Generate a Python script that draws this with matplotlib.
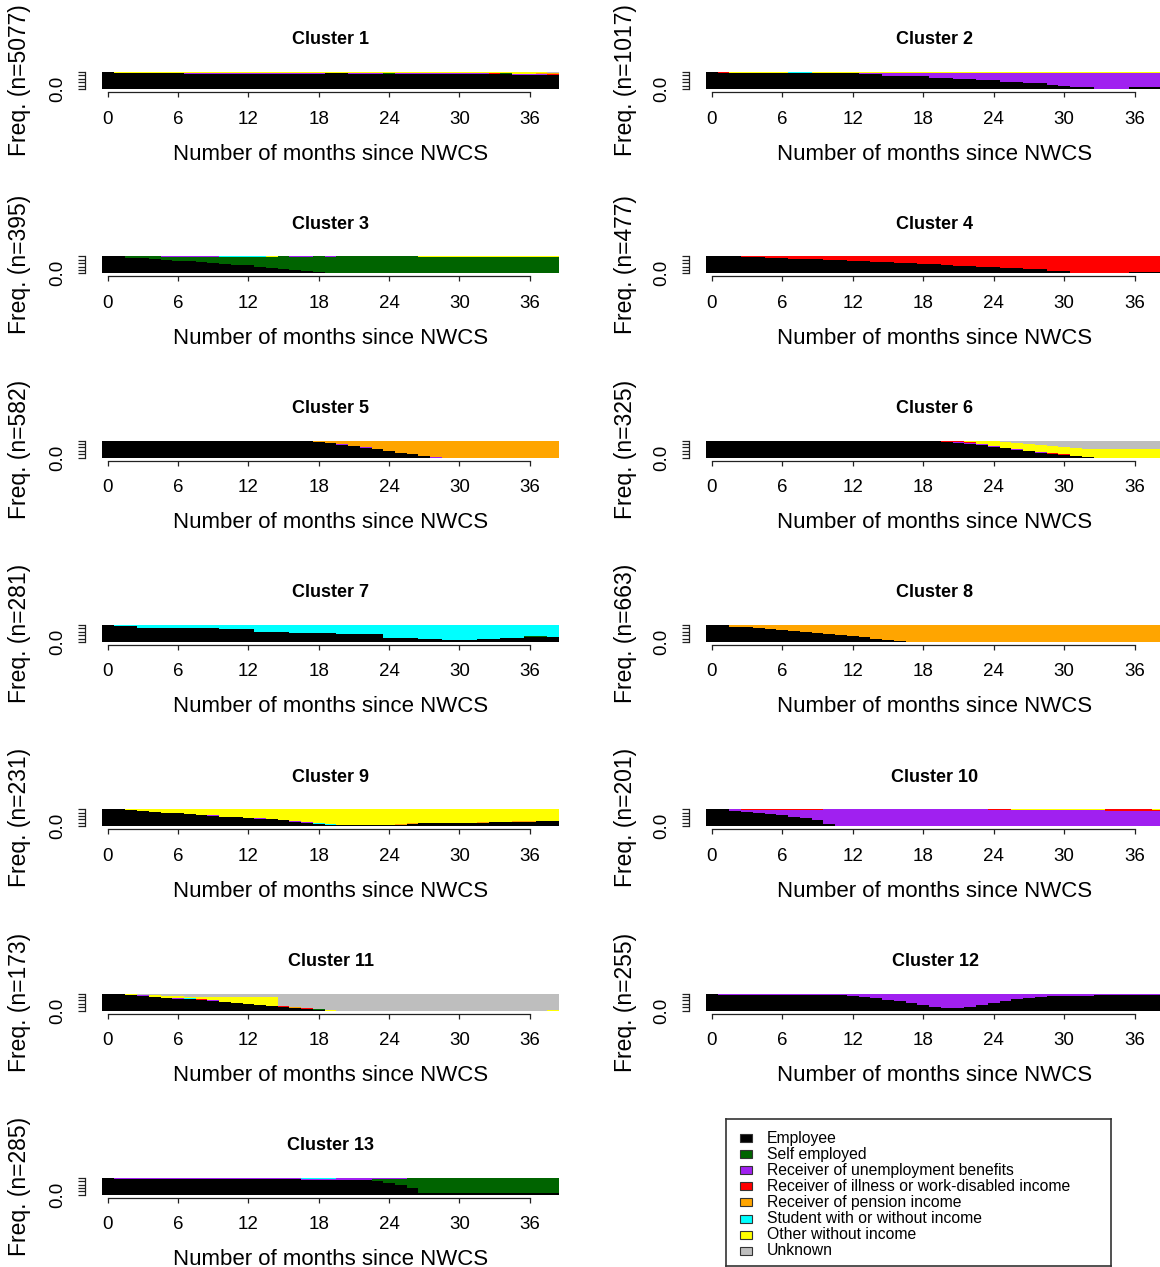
import numpy as np
import matplotlib.pyplot as plt

plt.rcParams['font.family'] = ['Liberation Sans', 'DejaVu Sans']

W, H = 1160, 1267
fig = plt.figure(figsize=(W / 100, H / 100), dpi=100)

months = np.arange(39)
xticks = [0, 6, 12, 18, 24, 30, 36]

state_keys = ["emp", "self", "unemp", "ill", "pens", "stud", "other", "unk"]
state_labels = [
    "Employee",
    "Self employed",
    "Receiver of unemployment benefits",
    "Receiver of illness or work-disabled income",
    "Receiver of pension income",
    "Student with or without income",
    "Other without income",
    "Unknown",
]
state_colors = ["#000000", "#006400", "#A020F0", "#FF0000",
                "#FFA500", "#00FFFF", "#FFFF00", "#BEBEBE"]

cluster_sizes = [5077, 1017, 395, 477, 582, 325, 281, 663, 231, 201, 173, 255, 285]

# state shares per month (percent), months 0..38
c01_emp = [100, 94, 94, 94, 94, 94, 94, 90, 90, 90, 90, 90, 90,
           90, 90, 90, 90, 90, 90, 94, 94, 90, 90, 90, 90, 90,
           90, 90, 90, 90, 90, 90, 90, 88, 88, 85, 85, 83, 80]
c01_self = [0, 0, 0, 0, 0, 0, 0, 0, 0, 0, 0, 0, 0,
            0, 0, 0, 0, 0, 0, 3, 3, 0, 0, 0, 5, 0,
            0, 0, 0, 0, 0, 0, 0, 0, 6, 0, 0, 0, 0]
c01_unemp = [0, 0, 0, 0, 0, 0, 0, 5, 5, 5, 5, 5, 5,
             5, 5, 5, 5, 5, 5, 0, 0, 5, 5, 5, 0, 5,
             5, 5, 5, 5, 5, 5, 5, 0, 0, 5, 5, 5, 4]
c01_ill = [0, 0, 0, 0, 0, 0, 0, 0, 0, 0, 0, 0, 0,
           0, 0, 0, 0, 0, 0, 0, 0, 0, 0, 0, 0, 0,
           0, 0, 0, 0, 0, 0, 0, 6, 0, 0, 0, 3, 4]
c01_pens = [0, 0, 0, 0, 0, 0, 0, 0, 0, 0, 0, 0, 0,
            0, 0, 0, 0, 0, 0, 0, 0, 0, 0, 0, 0, 0,
            0, 0, 0, 0, 0, 0, 0, 0, 0, 0, 0, 2, 4]
c01_other = [0, 6, 6, 6, 6, 6, 6, 5, 5, 5, 5, 5, 5,
             5, 5, 5, 5, 5, 5, 3, 3, 5, 5, 5, 5, 5,
             5, 5, 5, 5, 5, 5, 5, 6, 6, 10, 10, 7, 4]
c01_unk = [0, 0, 0, 0, 0, 0, 0, 0, 0, 0, 0, 0, 0,
           0, 0, 0, 0, 0, 0, 0, 0, 0, 0, 0, 0, 0,
           0, 0, 0, 0, 0, 0, 0, 0, 0, 0, 0, 0, 4]

c02_emp = [100, 95, 96, 96, 96, 96, 96, 96, 96, 96, 96, 96, 96,
           87, 87, 79, 79, 74, 74, 66, 66, 58, 58, 51, 51, 43,
           43, 34, 34, 25, 19, 11, 11, 0, 0, 0, 9, 9, 9]
c02_unemp = [0, 0, 0, 0, 0, 0, 0, 0, 0, 0, 0, 0, 0,
             10, 10, 18, 18, 23, 23, 31, 31, 39, 39, 46, 46, 54,
             54, 63, 63, 72, 78, 86, 86, 97, 97, 97, 88, 88, 88]
c02_ill = [0, 5, 0, 0, 0, 0, 0, 0, 0, 0, 0, 0, 0,
           0, 0, 0, 0, 0, 0, 0, 0, 0, 0, 0, 0, 0,
           0, 0, 0, 0, 0, 0, 0, 0, 0, 0, 0, 0, 0]
c02_stud = [0, 0, 0, 0, 0, 0, 0, 4, 4, 0, 0, 0, 0,
            0, 0, 0, 0, 0, 0, 0, 0, 0, 0, 0, 0, 0,
            0, 0, 0, 0, 0, 0, 0, 0, 0, 0, 0, 0, 0]
c02_other = [0, 0, 4, 4, 4, 4, 4, 0, 0, 4, 4, 4, 4,
             3, 3, 3, 3, 3, 3, 3, 3, 3, 3, 3, 3, 3,
             3, 3, 3, 3, 3, 3, 3, 3, 3, 3, 3, 3, 3]

c03_emp = [100, 100, 92, 88, 84, 79, 74, 70, 64, 60, 56, 51, 46,
           40, 34, 28, 22, 16, 8, 0, 0, 0, 0, 0, 0, 0,
           3, 3, 3, 3, 3, 3, 3, 3, 3, 3, 3, 3, 3]
c03_self = [0, 0, 8, 12, 16, 18, 23, 27, 33, 37, 41, 46, 51,
            57, 63, 72, 75, 81, 92, 97, 100, 100, 100, 100, 100, 100,
            97, 94, 94, 94, 94, 94, 94, 94, 94, 94, 94, 94, 94]
c03_unemp = [0, 0, 0, 0, 0, 3, 3, 3, 3, 3, 0, 0, 0,
             0, 0, 0, 3, 3, 0, 3, 0, 0, 0, 0, 0, 0,
             0, 0, 0, 0, 0, 0, 0, 0, 0, 0, 0, 0, 0]
c03_stud = [0, 0, 0, 0, 0, 0, 0, 0, 0, 0, 3, 3, 3,
            3, 0, 0, 0, 0, 0, 0, 0, 0, 0, 0, 0, 0,
            0, 0, 0, 0, 0, 0, 0, 0, 0, 0, 0, 0, 0]
c03_other = [0, 0, 0, 0, 0, 0, 0, 0, 0, 0, 0, 0, 0,
             0, 3, 0, 0, 0, 0, 0, 0, 0, 0, 0, 0, 0,
             0, 3, 3, 3, 3, 3, 3, 3, 3, 3, 3, 3, 3]

c04_emp = [100, 100, 100, 96, 94, 91, 88, 86, 84, 82, 79, 76, 73,
           70, 67, 64, 61, 58, 55, 52, 48, 45, 42, 39, 36, 33,
           31, 25, 25, 14, 12, 1, 0, 0, 0, 3, 8, 8, 9]
c04_self = [0, 0, 0, 0, 0, 0, 0, 0, 0, 0, 0, 2, 2,
            0, 0, 0, 0, 0, 0, 0, 0, 0, 0, 0, 0, 0,
            0, 0, 0, 0, 0, 0, 0, 0, 0, 0, 0, 0, 0]
c04_unemp = [0, 0, 0, 0, 0, 0, 2, 0, 0, 2, 0, 0, 0,
             0, 0, 2, 0, 2, 0, 0, 2, 0, 2, 0, 0, 0,
             0, 2, 0, 0, 0, 0, 0, 0, 2, 0, 0, 0, 0]
c04_ill = [0, 0, 0, 4, 6, 9, 10, 14, 16, 16, 21, 22, 25,
           30, 33, 34, 39, 40, 45, 48, 50, 55, 56, 61, 64, 67,
           69, 73, 75, 86, 88, 99, 100, 100, 98, 97, 92, 92, 91]

c05_emp = [100, 100, 100, 100, 100, 100, 100, 100, 100, 100, 100, 100, 100,
           100, 100, 100, 100, 100, 93, 85, 76, 67, 59, 48, 37, 26,
           20, 7, 0, 0, 0, 0, 0, 0, 0, 0, 0, 0, 0]
c05_self = [0, 0, 0, 0, 0, 0, 0, 0, 0, 0, 0, 0, 0,
            0, 0, 0, 0, 0, 0, 0, 0, 0, 0, 0, 0, 3,
            0, 0, 0, 0, 0, 0, 0, 0, 0, 0, 0, 0, 0]
c05_unemp = [0, 0, 0, 0, 0, 0, 0, 0, 0, 0, 0, 0, 0,
             0, 0, 0, 0, 0, 0, 3, 3, 3, 3, 0, 0, 0,
             0, 0, 3, 0, 0, 0, 0, 0, 0, 0, 0, 0, 0]
c05_ill = [0, 0, 0, 0, 0, 0, 0, 0, 0, 0, 0, 0, 0,
           0, 0, 0, 0, 0, 0, 0, 0, 0, 0, 3, 0, 0,
           0, 0, 0, 0, 0, 0, 0, 0, 0, 0, 0, 0, 0]
c05_pens = [0, 0, 0, 0, 0, 0, 0, 0, 0, 0, 0, 0, 0,
            0, 0, 0, 0, 0, 7, 12, 21, 30, 38, 49, 63, 71,
            80, 93, 97, 100, 100, 100, 100, 100, 100, 100, 100, 100, 100]

c06_emp = [100, 100, 100, 100, 100, 100, 100, 100, 100, 100, 100, 100, 100,
           100, 100, 96, 96, 96, 96, 96, 89, 85, 80, 72, 63, 54,
           46, 37, 28, 20, 13, 7, 2, 0, 0, 0, 0, 0, 0]
c06_unemp = [0, 0, 0, 0, 0, 0, 0, 0, 0, 0, 0, 0, 0,
             0, 0, 4, 0, 4, 0, 0, 4, 5, 6, 6, 5, 5,
             4, 4, 4, 3, 2, 3, 3, 0, 0, 0, 0, 0, 0]
c06_ill = [0, 0, 0, 0, 0, 0, 0, 0, 0, 0, 0, 0, 0,
           0, 0, 0, 0, 0, 0, 0, 2, 5, 3, 2, 0, 0,
           0, 0, 0, 3, 4, 0, 0, 0, 0, 0, 0, 0, 0]
c06_stud = [0, 0, 0, 0, 0, 0, 0, 0, 0, 0, 0, 0, 0,
            0, 0, 0, 4, 0, 4, 4, 3, 0, 0, 0, 0, 0,
            0, 0, 2, 0, 0, 0, 0, 0, 0, 0, 0, 0, 0]
c06_other = [0, 0, 0, 0, 0, 0, 0, 0, 0, 0, 0, 0, 0,
             0, 0, 0, 0, 0, 0, 0, 2, 5, 11, 20, 29, 34,
             38, 41, 42, 44, 45, 47, 47, 48, 48, 48, 48, 48, 48]
c06_unk = [0, 0, 0, 0, 0, 0, 0, 0, 0, 0, 0, 0, 0,
           0, 0, 0, 0, 0, 0, 0, 0, 0, 0, 0, 3, 7,
           12, 18, 24, 30, 36, 43, 48, 52, 52, 52, 52, 52, 52]

c07_emp = [100, 92, 92, 84, 84, 84, 84, 84, 84, 84, 73, 73, 73,
           57, 57, 57, 51, 51, 51, 51, 45, 45, 45, 45, 25, 25,
           25, 16, 16, 10, 10, 10, 16, 16, 22, 25, 31, 31, 31]
c07_self = [0, 0, 0, 0, 0, 0, 0, 0, 0, 0, 0, 0, 0,
            0, 0, 0, 0, 0, 0, 0, 0, 0, 0, 0, 0, 0,
            0, 0, 0, 0, 0, 0, 0, 0, 0, 0, 3, 3, 0]
c07_ill = [0, 0, 0, 0, 0, 0, 0, 0, 0, 0, 0, 0, 0,
           0, 0, 3, 0, 0, 0, 0, 0, 0, 0, 0, 0, 0,
           0, 0, 0, 0, 0, 0, 0, 0, 0, 0, 0, 0, 0]
c07_stud = [0, 8, 8, 16, 16, 16, 16, 16, 16, 16, 24, 24, 27,
            43, 43, 37, 49, 49, 49, 49, 55, 55, 52, 55, 75, 75,
            75, 84, 84, 90, 90, 90, 84, 84, 78, 72, 63, 63, 66]
c07_other = [0, 0, 0, 0, 0, 0, 0, 0, 0, 0, 3, 3, 0,
             0, 0, 3, 0, 0, 0, 0, 0, 0, 3, 0, 0, 0,
             0, 0, 0, 0, 0, 0, 0, 0, 0, 3, 3, 3, 3]

c08_emp = [100, 100, 90, 85, 80, 75, 70, 65, 58, 52, 45, 40, 33,
           27, 20, 12, 6, 0, 0, 0, 0, 0, 0, 0, 0, 0,
           0, 0, 0, 0, 0, 0, 0, 0, 0, 0, 0, 0, 0]
c08_pens = [0, 0, 10, 15, 20, 25, 30, 35, 42, 48, 55, 60, 67,
            73, 80, 88, 94, 100, 100, 100, 100, 100, 100, 100, 100, 100,
            100, 100, 100, 100, 100, 100, 100, 100, 100, 100, 100, 100, 100]

c09_emp = [100, 100, 93, 88, 84, 76, 75, 70, 68, 62, 57, 55, 50,
           45, 41, 35, 27, 20, 14, 9, 7, 6, 5, 5, 5, 9,
           15, 16, 17, 17, 17, 18, 20, 22, 24, 25, 25, 29, 29]
c09_unemp = [0, 0, 0, 4, 0, 0, 0, 0, 0, 4, 0, 0, 0,
             3, 3, 0, 3, 3, 0, 0, 0, 0, 0, 3, 0, 0,
             0, 0, 0, 0, 0, 0, 0, 0, 0, 0, 0, 0, 0]
c09_ill = [0, 0, 4, 0, 0, 0, 0, 0, 0, 0, 0, 0, 0,
           0, 0, 0, 0, 0, 0, 0, 0, 0, 0, 0, 0, 0,
           0, 0, 0, 0, 0, 0, 0, 0, 0, 0, 0, 0, 0]
c09_pens = [0, 0, 0, 0, 0, 0, 0, 4, 0, 0, 0, 0, 0,
            0, 0, 0, 0, 0, 0, 0, 0, 0, 0, 0, 0, 4,
            2, 2, 2, 2, 2, 2, 3, 3, 3, 3, 3, 3, 3]
c09_stud = [0, 0, 0, 0, 0, 0, 0, 0, 0, 0, 0, 0, 0,
            0, 0, 3, 0, 0, 4, 4, 0, 0, 0, 0, 0, 0,
            0, 0, 0, 0, 0, 0, 0, 0, 0, 0, 0, 0, 0]
c09_other = [0, 0, 3, 8, 16, 24, 25, 26, 32, 34, 43, 45, 50,
             52, 56, 62, 70, 77, 82, 87, 93, 94, 95, 92, 95, 87,
             83, 82, 81, 81, 81, 80, 77, 75, 73, 72, 72, 68, 68]

c10_emp = [100, 100, 90, 83, 77, 70, 64, 57, 50, 38, 15, 0, 0,
           0, 0, 0, 0, 0, 0, 0, 0, 0, 0, 0, 0, 0,
           0, 0, 0, 0, 0, 0, 0, 0, 0, 0, 0, 0, 0]
c10_unemp = [0, 0, 10, 13, 19, 26, 32, 39, 46, 58, 85, 100, 100,
             100, 100, 100, 100, 100, 100, 100, 100, 100, 100, 100, 96, 96,
             97, 97, 94, 94, 94, 94, 94, 94, 92, 92, 92, 92, 91]
c10_ill = [0, 0, 0, 4, 4, 4, 4, 4, 4, 4, 0, 0, 0,
           0, 0, 0, 0, 0, 0, 0, 0, 0, 0, 0, 4, 4,
           0, 0, 3, 3, 3, 3, 3, 3, 8, 8, 8, 8, 4]
c10_other = [0, 0, 0, 0, 0, 0, 0, 0, 0, 0, 0, 0, 0,
             0, 0, 0, 0, 0, 0, 0, 0, 0, 0, 0, 0, 0,
             3, 3, 3, 3, 3, 3, 3, 3, 0, 0, 0, 0, 5]

c11_emp = [100, 95, 92, 86, 82, 76, 68, 68, 62, 56, 50, 42, 36,
           30, 26, 22, 16, 10, 4, 0, 0, 0, 0, 0, 0, 0,
           0, 0, 0, 0, 0, 0, 0, 0, 0, 0, 0, 0, 0]
c11_self = [0, 0, 0, 0, 0, 0, 0, 0, 0, 0, 0, 0, 0,
            0, 0, 0, 0, 0, 4, 0, 0, 0, 0, 0, 0, 0,
            0, 0, 0, 0, 0, 0, 0, 0, 0, 0, 0, 0, 0]
c11_unemp = [0, 5, 0, 4, 0, 0, 4, 0, 0, 3, 0, 0, 0,
             4, 0, 0, 0, 0, 0, 0, 0, 0, 0, 0, 0, 0,
             0, 0, 0, 0, 0, 0, 0, 0, 0, 0, 0, 0, 0]
c11_ill = [0, 0, 0, 0, 0, 0, 0, 0, 4, 0, 0, 0, 0,
           0, 0, 4, 0, 5, 0, 0, 0, 0, 0, 0, 0, 0,
           0, 0, 0, 0, 0, 0, 0, 0, 0, 0, 0, 0, 0]
c11_pens = [0, 0, 0, 0, 0, 0, 0, 0, 0, 3, 0, 4, 0,
            0, 0, 0, 4, 0, 0, 0, 0, 0, 0, 0, 0, 0,
            0, 0, 0, 0, 0, 0, 0, 0, 0, 0, 0, 0, 0]
c11_stud = [0, 0, 0, 0, 0, 0, 0, 4, 0, 0, 0, 0, 0,
            0, 0, 0, 0, 0, 0, 0, 0, 0, 0, 0, 0, 0,
            0, 0, 0, 0, 0, 0, 0, 0, 0, 0, 0, 0, 0]
c11_other = [0, 0, 4, 4, 8, 10, 12, 10, 16, 18, 30, 34, 44,
             46, 54, 0, 0, 0, 0, 3, 0, 0, 0, 0, 0, 0,
             0, 0, 0, 0, 0, 0, 0, 0, 0, 0, 0, 0, 5]
c11_unk = [0, 0, 4, 6, 10, 14, 16, 18, 18, 20, 20, 20, 20,
           20, 20, 74, 80, 85, 92, 97, 100, 100, 100, 100, 100, 100,
           100, 100, 100, 100, 100, 100, 100, 100, 100, 100, 100, 100, 95]

c12_emp = [100, 94, 94, 94, 94, 94, 94, 94, 94, 94, 92, 90, 86,
           80, 72, 64, 55, 44, 32, 20, 14, 14, 20, 32, 45, 58,
           68, 76, 82, 86, 88, 88, 88, 90, 90, 90, 90, 92, 92]
c12_unemp = [0, 3, 3, 3, 3, 3, 3, 3, 3, 3, 6, 10, 14,
             20, 28, 36, 45, 56, 68, 80, 86, 86, 80, 68, 55, 42,
             32, 24, 18, 11, 9, 10, 10, 8, 8, 10, 10, 6, 5]
c12_ill = [0, 3, 3, 3, 3, 3, 3, 3, 3, 3, 2, 0, 0,
           0, 0, 0, 0, 0, 0, 0, 0, 0, 0, 0, 0, 0,
           0, 0, 0, 0, 0, 0, 0, 0, 0, 0, 0, 0, 0]
c12_stud = [0, 0, 0, 0, 0, 0, 0, 0, 0, 0, 0, 0, 0,
            0, 0, 0, 0, 0, 0, 0, 0, 0, 0, 0, 0, 0,
            0, 0, 0, 3, 3, 0, 0, 0, 0, 0, 0, 2, 0]
c12_other = [0, 0, 0, 0, 0, 0, 0, 0, 0, 0, 0, 0, 0,
             0, 0, 0, 0, 0, 0, 0, 0, 0, 0, 0, 0, 0,
             0, 0, 0, 0, 0, 2, 2, 2, 2, 0, 0, 0, 3]

c13_emp = [100, 93, 93, 93, 93, 93, 93, 93, 93, 93, 92, 92, 92,
           92, 92, 92, 92, 90, 90, 90, 88, 88, 88, 82, 72, 60,
           40, 12, 12, 12, 12, 12, 12, 12, 12, 12, 12, 12, 12]
c13_self = [0, 0, 0, 0, 0, 0, 0, 0, 0, 0, 0, 0, 0,
            0, 0, 0, 0, 0, 0, 0, 0, 0, 0, 10, 22, 34,
            56, 88, 88, 88, 88, 88, 88, 88, 88, 88, 88, 88, 88]
c13_unemp = [0, 4, 4, 4, 4, 4, 4, 4, 4, 4, 8, 8, 8,
             8, 8, 8, 8, 5, 5, 5, 12, 12, 12, 8, 6, 6,
             4, 0, 0, 0, 0, 0, 0, 0, 0, 0, 0, 0, 0]
c13_ill = [0, 3, 3, 3, 3, 3, 3, 3, 3, 3, 0, 0, 0,
           0, 0, 0, 0, 0, 0, 0, 0, 0, 0, 0, 0, 0,
           0, 0, 0, 0, 0, 0, 0, 0, 0, 0, 0, 0, 0]
c13_stud = [0, 0, 0, 0, 0, 0, 0, 0, 0, 0, 0, 0, 0,
            0, 0, 0, 0, 5, 5, 5, 0, 0, 0, 0, 0, 0,
            0, 0, 0, 0, 0, 0, 0, 0, 0, 0, 0, 0, 0]

clusters = [
    {"emp": c01_emp, "self": c01_self, "unemp": c01_unemp, "ill": c01_ill,
     "pens": c01_pens, "other": c01_other, "unk": c01_unk},
    {"emp": c02_emp, "unemp": c02_unemp, "ill": c02_ill, "stud": c02_stud,
     "other": c02_other},
    {"emp": c03_emp, "self": c03_self, "unemp": c03_unemp, "stud": c03_stud,
     "other": c03_other},
    {"emp": c04_emp, "self": c04_self, "unemp": c04_unemp, "ill": c04_ill},
    {"emp": c05_emp, "self": c05_self, "unemp": c05_unemp, "ill": c05_ill,
     "pens": c05_pens},
    {"emp": c06_emp, "unemp": c06_unemp, "ill": c06_ill, "stud": c06_stud,
     "other": c06_other, "unk": c06_unk},
    {"emp": c07_emp, "self": c07_self, "ill": c07_ill, "stud": c07_stud,
     "other": c07_other},
    {"emp": c08_emp, "pens": c08_pens},
    {"emp": c09_emp, "unemp": c09_unemp, "ill": c09_ill, "pens": c09_pens,
     "stud": c09_stud, "other": c09_other},
    {"emp": c10_emp, "unemp": c10_unemp, "ill": c10_ill, "other": c10_other},
    {"emp": c11_emp, "self": c11_self, "unemp": c11_unemp, "ill": c11_ill,
     "pens": c11_pens, "stud": c11_stud, "other": c11_other, "unk": c11_unk},
    {"emp": c12_emp, "unemp": c12_unemp, "ill": c12_ill, "stud": c12_stud,
     "other": c12_other},
    {"emp": c13_emp, "self": c13_self, "unemp": c13_unemp, "ill": c13_ill,
     "stud": c13_stud},
]


def fx(px):
    return px / W


def fy(py):
    return 1 - py / H


axis_col = "#222222"
row_step = 184.3

for i, series in enumerate(clusters):
    row, col = divmod(i, 2)
    top = 72 + row_step * row
    left = 102 if col == 0 else 706
    width = 457 if col == 0 else 458
    ax = fig.add_axes([fx(left), fy(top + 17), fx(width), 17 / H])

    # stacked state distribution, shares normalised per month
    vals = np.array([series.get(k, [0] * 39) for k in state_keys], dtype=float)
    vals = vals / vals.sum(axis=0)
    bottom = np.zeros(len(months))
    for j, color in enumerate(state_colors):
        ax.bar(months, vals[j], bottom=bottom, width=1.0, color=color,
               linewidth=0, antialiased=False)
        bottom += vals[j]

    ax.set_xlim(-0.5, 38.5)
    ax.set_ylim(0, 1)
    for side in ("top", "right"):
        ax.spines[side].set_visible(False)
    ax.spines["bottom"].set_position(("outward", 2.2))
    ax.spines["bottom"].set_bounds(0, 36)
    ax.spines["left"].set_position(("outward", 12.5))
    ax.spines["left"].set_bounds(0, 1)
    for side in ("bottom", "left"):
        ax.spines[side].set_color(axis_col)
        ax.spines[side].set_linewidth(0.9)

    ax.set_xticks(xticks)
    ax.set_xticklabels([str(t) for t in xticks])
    ax.tick_params(axis="x", length=3.8, width=0.9, color=axis_col,
                   labelsize=13.5, pad=9.5)
    ax.set_yticks([0, 0.2, 0.4, 0.6, 0.8, 1.0])
    ax.set_yticklabels(["0.0", "", "", "", "", ""], rotation=90, va="center")
    ax.tick_params(axis="y", length=5, width=0.9, color=axis_col,
                   labelsize=13.5, pad=8)

    cx = left + width / 2 if col == 0 else 935
    fig.text(fx(cx), fy(top - 32), f"Cluster {i + 1}", ha="center",
             va="center", fontsize=13, fontweight="bold")
    fig.text(fx(cx), fy(top + 82), "Number of months since NWCS",
             ha="center", va="center", fontsize=16)
    ylab_x = 20 if col == 0 else 625
    fig.text(fx(ylab_x), fy(top + 8.5), f"Freq. (n={cluster_sizes[i]})",
             ha="center", va="center", rotation=90, fontsize=16.5)

# legend panel
lg_left, lg_top, lg_w, lg_h = 726, 1119, 385, 147
lax = fig.add_axes([fx(lg_left), fy(lg_top + lg_h), fx(lg_w), lg_h / H])
lax.set_xlim(0, lg_w)
lax.set_ylim(lg_h, 0)
lax.set_xticks([])
lax.set_yticks([])
for sp in lax.spines.values():
    sp.set_color("#333333")
    sp.set_linewidth(1.2)
for j, (label, color) in enumerate(zip(state_labels, state_colors)):
    yc = 19 + 16.1 * j
    lax.add_patch(plt.Rectangle((14, yc - 4), 12, 8, facecolor=color,
                                edgecolor="#333333", linewidth=0.8))
    lax.text(41, yc, label, va="center", ha="left", fontsize=11.3)

fig.savefig("out.png", dpi=100)
